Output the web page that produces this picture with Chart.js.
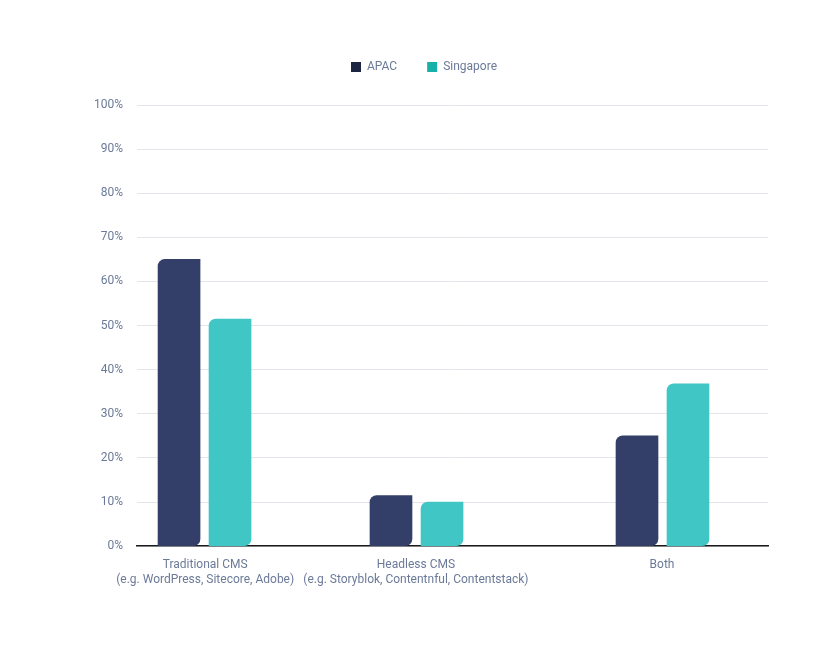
<!DOCTYPE html>
<html>
<head>
<meta charset="utf-8">
<script src="https://cdn.jsdelivr.net/npm/chart.js@4"></script>
<style>
  html, body { margin: 0; padding: 0; background: #ffffff; }
  #wrap { width: 840px; height: 661px; }
</style>
</head>
<body>
<div id="wrap"><canvas id="chart" width="840" height="661"></canvas></div>
<script>
const categories = [
  ['Traditional CMS', '(e.g. WordPress, Sitecore, Adobe)'],
  ['Headless CMS', '(e.g. Storyblok, Contentnful, Contentstack)'],
  ['Both']
];
const categoryPos = [10.8, 44.2, 83.2];
const apacPos = [6.66, 40.25, 79.24];
const singaporePos = [14.74, 48.34, 87.32];
const apacValues = [65, 11.5, 25];
const singaporeValues = [51.5, 10, 36.8];

const corner = { topLeft: 7, bottomRight: 7, topRight: 0, bottomLeft: 0 };
const toPoints = (xs, ys) => xs.map((x, i) => ({ x, y: ys[i] }));

new Chart(document.getElementById('chart'), {
  type: 'bar',
  data: {
    datasets: [
      { label: 'APAC', data: toPoints(apacPos, apacValues), backgroundColor: '#333f68',
        legendColor: '#1b2542', borderRadius: corner, borderSkipped: false, barThickness: 42, grouped: false },
      { label: 'Singapore', data: toPoints(singaporePos, singaporeValues), backgroundColor: '#40c6c4',
        legendColor: '#17b1aa', borderRadius: corner, borderSkipped: false, barThickness: 42, grouped: false }
    ]
  },
  options: {
    responsive: false,
    animation: false,
    layout: { padding: { left: 80, right: 72, top: 31, bottom: 70 } },
    plugins: {
      tooltip: { enabled: false },
      legend: {
        position: 'top',
        labels: {
          boxWidth: 10, boxHeight: 10, padding: 30,
          color: '#6b7a99', font: { family: 'Roboto', size: 12 },
          generateLabels: (chart) => chart.data.datasets.map((ds, i) => ({
            text: ds.label, fillStyle: ds.legendColor, strokeStyle: ds.legendColor,
            lineWidth: 0, datasetIndex: i, fontColor: '#6b7a99'
          }))
        }
      }
    },
    scales: {
      x: {
        type: 'linear', min: 0, max: 100, offset: false,
        afterBuildTicks: (axis) => { axis.ticks = categoryPos.map(v => ({ value: v })); },
        ticks: {
          autoSkip: false, maxRotation: 0, padding: 4,
          color: '#6b7a99', font: { family: 'Roboto', size: 12 },
          callback: (v) => categories[categoryPos.indexOf(v)]
        },
        grid: { display: false },
        border: { color: '#1a1a1a', width: 1.5 }
      },
      y: {
        min: 0, max: 100,
        ticks: { stepSize: 10, padding: 14, color: '#6b7a99', font: { family: 'Roboto', size: 12 },
          callback: (v) => v + '%' },
        grid: { color: '#e3e5ea', drawTicks: false },
        border: { display: false }
      }
    }
  },
  plugins: [{
    id: 'legendGap',
    beforeInit: (chart) => {
      const fit = chart.legend.fit;
      chart.legend.fit = function () { fit.call(this); this.height += 22; };
    }
  }]
});
</script>
</body>
</html>
